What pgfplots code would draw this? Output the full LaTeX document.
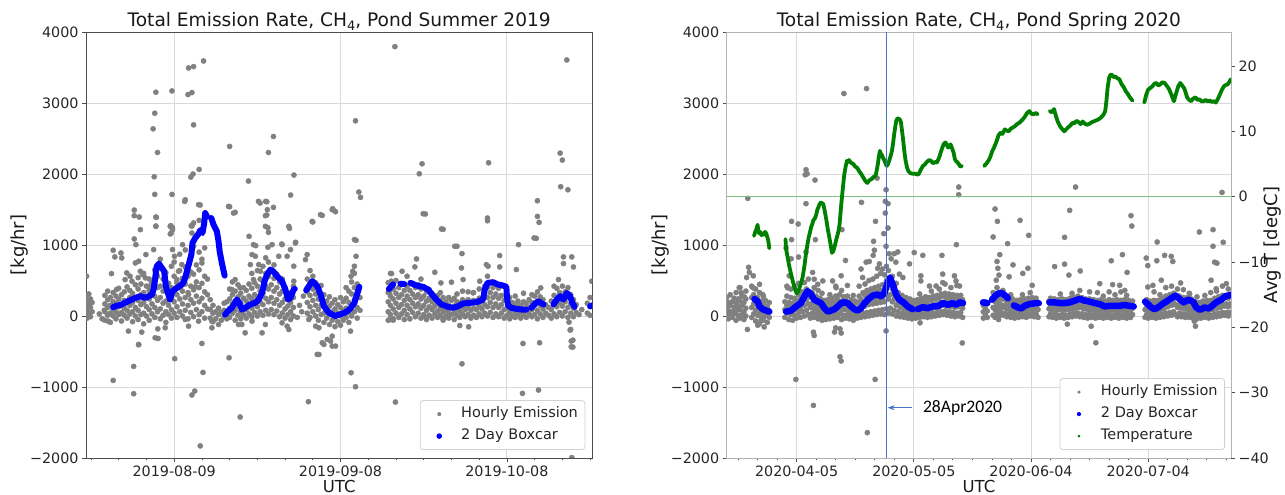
\documentclass[border=0pt]{standalone}
\usepackage{fontspec}
\setmainfont{DejaVu Sans}
\newfontfamily\carlito{Carlito}
\usepackage{pgfplots}
\pgfplotsset{compat=1.18}
\usetikzlibrary{arrows.meta}
\definecolor{mgray}{HTML}{808080}
\definecolor{mblue}{HTML}{0000FF}
\definecolor{mgreen}{HTML}{008000}
\definecolor{vline}{HTML}{4472C4}
\definecolor{zline}{HTML}{80C080}
\definecolor{gridc}{HTML}{D9D9D9}
\pgfplotsset{
  mybase/.style={
    scale only axis, height=426pt, anchor=south west,
    clip marker paths=true,
    tick align=outside, major tick length=4pt, minor tick length=2.5pt,
    tick pos=left,
    ymin=-2000, ymax=4000,
    ytick={-2000,-1000,0,1000,2000,3000,4000},
    yticklabels={−2000,−1000,0,1000,2000,3000,4000},
    grid=major,
    major grid style={draw=gridc, line width=0.9pt},
    tick label style={font=\fontsize{14.3}{16}\selectfont, text=black!85},
    tick style={draw=black!70, line width=0.8pt},
    legend cell align=left,
  },
  mylegend/.style={
    legend style={
      at={(1,0)}, anchor=south east,
      draw=black!18, line width=0.8pt, rounded corners=3pt, fill=white,
      font=\fontsize{14.5}{17}\selectfont, text=black!85,
      inner xsep=4pt, inner ysep=3pt, row sep=1pt,
      nodes={inner sep=3pt, text height=11pt, text depth=4pt},
    },
  },
  legdot/.style 2 args={legend image code/.code={\path[draw=none] (0pt,0pt) -- (34pt,0pt); \path[draw=none, fill=#1] (15pt,0pt) circle (#2);}},
}
\begin{document}
\begin{tikzpicture}
\useasboundingbox (0pt,0pt) rectangle (1285pt,495pt);
% ---------------- LEFT PANEL ----------------
\begin{axis}[mybase, mylegend, at={(86pt,37pt)}, width=506.3pt,
  xmin=-15.9, xmax=75.4,
  xtick={0,30,60}, xticklabels={2019-08-09,2019-09-08,2019-10-08},
  minor xtick={-15,-10,-5,5,10,15,20,25,35,40,45,50,55,65,70,75},
  axis line style={draw=black!70, line width=0.9pt},
  legend style={xshift=-7pt, yshift=8pt},
]
\addplot[only marks, mark=*, mark size=2.6pt, mgray, mark options={draw=mgray, fill=mgray}, legdot={mgray}{2pt}] coordinates {
(-15.9,20)(-15.9,150)(-15.9,280)(-15.7,-30)(-15.7,90)(-15.7,210)(-15.4,40)(-15.4,170)(-15.4,310)(-15.1,-10)(-15.1,120)(-15.1,240)(-14.8,60)(-14.8,190)(-15.8,560)
(-13.5,30)(-13.0,-40)(-12.6,80)
(-12.5,-60)(-12.5,60)(-12.5,170)(-12.5,290)(-12,10)(-12,120)(-12,230)(-12,350)(-11.5,-90)(-11.5,40)(-11.5,150)(-11.5,260)(-11,0)(-11,90)(-11,200)(-11,330)
(-10.5,-40)(-10.5,60)(-10.5,180)(-10.5,280)(-10,20)(-10,130)(-10,240)(-10,390)(-9.5,-70)(-9.5,50)(-9.5,160)(-9.5,300)(-9,10)(-9,110)(-9,220)(-9,340)
(-8.5,-30)(-8.5,80)(-8.5,200)(-8.5,410)(-8,30)(-8,150)(-8,260)(-8,360)(-7.5,-80)(-7.5,60)(-7.5,190)(-7.5,320)(-7,0)(-7,120)(-7,250)(-7,440)
(-6.5,-50)(-6.5,80)(-6.5,220)(-6.5,380)(-6.5,540)(-6,20)(-6,160)(-6,300)(-6,450)(-5.5,-110)(-5.5,40)(-5.5,190)(-5.5,330)(-5.5,600)(-5,0)(-5,130)(-5,270)(-5,420)
(-4.5,-60)(-4.5,90)(-4.5,240)(-4.5,360)(-4.5,520)(-4,30)(-4,170)(-4,310)(-4,470)(-3.5,-20)(-3.5,120)(-3.5,280)(-3.5,450)(-3.5,650)(-3,60)(-3,220)(-3,400)(-3,560)
(-2.5,-40)(-2.5,100)(-2.5,260)(-2.5,420)(-2.5,800)(-2,10)(-2,180)(-2,350)(-2,520)(-1.5,-90)(-1.5,60)(-1.5,210)(-1.5,380)(-1.5,610)(-1,20)(-1,150)(-1,300)(-1,460)
(-0.5,-30)(-0.5,90)(-0.5,250)(-0.5,400)(-0.5,700)
(0,40)(0,200)(0,380)(0,560)(0,760)(0.5,-20)(0.5,130)(0.5,300)(0.5,470)(1,60)(1,240)(1,420)(1,640)(1,870)(1.5,0)(1.5,170)(1.5,350)(1.5,530)
(2,80)(2,260)(2,450)(2,690)(2,930)(2.5,-40)(2.5,150)(2.5,330)(2.5,560)(3,50)(3,230)(3,420)(3,620)(3,850)(3.5,-10)(3.5,180)(3.5,370)(3.5,590)(3.5,980)
(4,90)(4,280)(4,480)(4,720)(4.5,20)(4.5,200)(4.5,400)(4.5,650)(4.5,900)(5,60)(5,250)(5,460)(5,800)(5.5,-30)(5.5,150)(5.5,340)(5.5,560)(5.5,960)
(6,100)(6,300)(6,520)(6.5,-30)(6.5,90)(6.5,230)(7,-80)(7,40)(7,150)(7.5,-40)(7.5,60)(8,-120)(8,20)(8,110)(8.5,-60)(8.5,50)(9,-10)(9,80)(9,180)(9.5,-40)(9.5,60)(9.5,200)
(10,-20)(10,110)(10,240)(10,380)(10.5,40)(10.5,170)(10.5,300)(10.5,480)(11,-60)(11,80)(11,210)(11,350)(11.5,10)(11.5,140)(11.5,270)(11.5,440)
(12,-40)(12,60)(12,180)(12,320)(12.5,20)(12.5,120)(12.5,250)(12.5,400)(13,-30)(13,90)(13,210)(13,360)(13.5,30)(13.5,150)(13.5,280)(13.5,450)
(14,-10)(14,110)(14,240)(14,390)(14,600)(14.5,50)(14.5,170)(14.5,300)(14.5,470)(15,0)(15,130)(15,270)(15,420)(15,640)(15.5,60)(15.5,200)(15.5,350)(15.5,520)
(16,10)(16,160)(16,320)(16,490)(16,700)(16.5,80)(16.5,250)(16.5,420)(16.5,600)(16.5,820)(17,30)(17,200)(17,380)(17,560)(17,760)(17.5,90)(17.5,260)(17.5,440)(17.5,640)
(18,20)(18,180)(18,350)(18,530)(18,720)(18.5,70)(18.5,230)(18.5,400)(18.5,590)(19,-10)(19,150)(19,310)(19,480)(19.5,40)(19.5,190)(19.5,350)(19.5,520)
(20,-30)(20,100)(20,240)(20,400)(20.5,20)(20.5,140)(20.5,280)(21,-50)(21,60)(21,190)(21,330)(21.5,0)(21.5,120)(21.5,260)(21.5,420)
(22.2,-20)(22.6,150)(23,60)(23.3,280)
(24,40)(24,190)(24,340)(24,520)(24.5,-20)(24.5,130)(24.5,290)(24.5,460)(24.5,640)(25,60)(25,220)(25,380)(25,560)(25.5,0)(25.5,150)(25.5,310)(25.5,470)
(26,-60)(26,90)(26,240)(26,390)(26.5,20)(26.5,150)(26.5,280)(26.5,430)(27,-90)(27,40)(27,170)(27,300)(27.5,-30)(27.5,80)(27.5,210)
(28,-120)(28,20)(28,140)(28,270)(28.5,-60)(28.5,60)(28.5,180)(29,-150)(29,-20)(29,100)(29,230)(29.5,-80)(29.5,40)(29.5,160)
(30,-130)(30,0)(30,120)(30,260)(30.5,-60)(30.5,70)(30.5,200)(31,-20)(31,110)(31,250)(31,400)(31.5,-90)(31.5,50)(31.5,190)(31.5,350)
(32,0)(32,150)(32,310)(32,480)(32.5,60)(32.5,230)(32.5,400)(32.5,600)(33,-30)(33,120)(33,300)(33,450)(33.5,80)(33.5,260)
(38.6,-60)(38.6,60)(38.6,200)(38.6,330)(38.6,470)(39,20)(39,150)(39,280)(39,420)(39,600)(39.5,-40)(39.5,100)(39.5,240)(39.5,380)
(40,40)(40,180)(40,320)(40,500)(40.5,-20)(40.5,120)(40.5,260)(40.5,400)(41,30)(41,160)(41,300)(41.5,-50)(41.5,80)(41.5,220)(41.5,360)
(42,20)(42,150)(42,280)(42,420)(42,560)(42.5,-40)(42.5,100)(42.5,230)(42.5,360)(43,50)(43,180)(43,310)(43,460)(43.5,-10)(43.5,130)(43.5,260)(43.5,400)
(44,40)(44,170)(44,300)(44,440)(44.5,-30)(44.5,110)(44.5,240)(44.5,380)(44.5,520)(45,20)(45,150)(45,280)(45,410)(45.5,-50)(45.5,80)(45.5,210)(45.5,340)
(46,10)(46,130)(46,250)(46,370)(46.5,-30)(46.5,90)(46.5,200)(46.5,320)(47,30)(47,140)(47,250)(47.5,-20)(47.5,70)(47.5,180)(47.5,290)
(48,10)(48,110)(48,210)(48,330)(48.5,-40)(48.5,60)(48.5,160)(48.5,260)(49,0)(49,100)(49,200)(49.5,-30)(49.5,50)(49.5,150)(49.5,260)
(50,20)(50,120)(50,220)(50.5,-50)(50.5,40)(50.5,140)(50.5,250)(51,10)(51,100)(51,200)(51,310)(51.5,-20)(51.5,70)(51.5,180)
(52,30)(52,130)(52,230)(52,350)(52.5,-10)(52.5,90)(52.5,200)(53,20)(53,120)(53,230)(53,340)(53.5,-30)(53.5,80)(53.5,190)
(54,10)(54,110)(54,220)(54,330)(54.5,-20)(54.5,90)(54.5,200)(55,30)(55,140)(55,250)(55,380)(55.5,-10)(55.5,100)(55.5,210)
(56,40)(56,160)(56,290)(56,420)(56.5,0)(56.5,130)(56.5,260)(56.5,400)(56.5,560)(57,50)(57,190)(57,330)(57,470)(57.5,-20)(57.5,120)(57.5,260)(57.5,400)
(58,30)(58,170)(58,310)(58,460)(58.5,-10)(58.5,120)(58.5,250)(58.5,390)(59,40)(59,160)(59,290)(59,430)(59.5,-30)(59.5,90)(59.5,220)
(60,10)(60,110)(60,220)(60.5,-40)(60.5,50)(60.5,150)(60.5,260)(61,0)(61,90)(61,190)(61.5,-20)(61.5,60)(61.5,160)(61.5,280)
(62,20)(62,110)(62,210)(62.5,-30)(62.5,50)(62.5,150)(63,10)(63,100)(63,200)(63,320)(63.5,-20)(63.5,70)(63.5,170)
(64,30)(64,120)(64,230)(64.5,-10)(64.5,90)(64.5,190)(64.5,300)(65,20)(65,150)(65,280)(65.5,-40)(65.5,80)(65.5,210)(65.5,340)
(66,30)(66,150)(66,270)(66.5,-20)(66.5,100)(66.5,230)(67,40)(67,160)(67.5,10)(67.5,120)
(68,-30)(68,90)(68,210)(68.5,30)(68.5,160)(68.5,290)(68.5,420)(69,-10)(69,130)(69,260)(69,390)(69.5,50)(69.5,190)(69.5,330)
(70,0)(70,140)(70,280)(70,420)(70.5,60)(70.5,200)(70.5,340)(71,-20)(71,120)(71,260)(71,400)(71.5,40)(71.5,170)(71.5,300)
(72,-10)(72,110)(72,230)(72.5,50)(72.5,160)(73,20)(73.5,90)(74.5,40)(74.5,180)(75,10)(75,130)(75,260)(75.5,-20)(75.5,90)(75.5,220)
(-16.1,1155)(-3.8,2636)(-3.5,2856)(-3.3,3152)(-3.0,2303)(-3.6,1961)(-3.5,1713)(-3.2,1389)(-3.3,1267)
(-7.2,1492)(-7.2,1413)(-6.3,1394)(-6.1,1216)(-7.2,1085)(-6.9,1005)
(-0.4,3170)(-0.4,1713)(-0.6,1272)(-0.3,1244)(-0.7,1155)
(1.9,1614)(2.6,3494)(3.5,3513)(5.3,3592)(2.5,3119)(3.2,3147)(3.5,2692)(4.5,2064)(3.4,1999)(3.0,1956)(4.7,1563)(3.2,1267)(4.5,1347)(3.2,1169)
(10.0,2388)(10.0,1539)(11.0,1460)(13.4,1900)(13.5,1122)(14.7,991)(15.5,1591)(16.7,1610)(16.7,1422)(16.9,1244)(17.0,1178)(17.0,2303)(17.9,2528)(17.9,1530)(16.9,968)(19.4,1014)(20.8,1235)(21.0,1703)(21.6,1985)(21.9,1038)
(25.0,1324)(26.7,1417)(28.6,1511)(29.1,1469)(32.7,2749)(32.8,1066)(33.3,1746)(33.6,1671)
(39.8,3794)(44.2,2003)(44.7,2144)(45.3,1436)(48.5,1221)(51.0,982)(56.7,2158)(56.5,1380)(56.5,1342)(62.1,1005)(65.3,1094)(65.5,1624)(65.5,1403)(65.8,1319)(69.6,2294)(70.0,2196)(70.8,3606)(69.7,1821)(71.0,1778)
(-11.0,-907)(-7.3,-1095)(-7.3,-710)(-6.4,-405)(-2.9,-316)(0.1,-602)(3.2,-1113)(3.7,-1057)(4.7,-1830)(5.2,-795)(9.9,-588)(11.9,-1423)(26.1,-542)(27.0,-401)(28.2,-354)(29.1,-424)(24.2,-1207)(31.9,-799)(32.7,-996)(39.9,-1212)(51.9,-673)(62.9,-387)(65.9,-377)(62.8,-1090)(65.7,-1043)(71.9,-340)(71.9,-438)(71.5,-190)(71.7,-1994)
(-11.0,926)(-9.6,888)(-10.7,832)(-9.45,818)(-5.1,865)(-3.7,935)(-7.0,747)(-6.4,771)(-11.3,597)(-8.55,607)(-7.95,560)(-7.6,490)(-8.85,513)(-10.4,373)(-6.1,630)(-5.7,583)(-5.2,537)(-4.6,419)
(-11.9,-73)(-8.25,-213)(-5.84,-227)(-6.4,-401)(-3.43,-307)(-2.95,-181)(-1.62,-166)(-0.3,1216)(-0.72,1263)(-0.54,1169)(-3.3,1394)(-3.3,1263)(-0.3,935)(0.06,841)(1.51,1005)(2.0,1638)(3.08,1272)(3.5,1310)(4.4,1568)(1.39,724)(0.79,630)(0.49,513)(1.09,396)(1.69,457)(2.6,302)(3.8,410)(5.0,747)(5.0,-387)(2.6,-143)(2.0,-49)(4.4,-73)(6.8,-166)(6.8,-73)
(9.8,1544)(10.7,1450)(14.3,1005)(15.2,1615)(16.5,1615)(16.8,1497)(16.45,1413)(16.45,1263)(17.65,1005)(18.86,841)(19.46,1005)(20.67,1263)(20.97,935)(20.37,841)(21.87,1029)(21.57,701)(21.57,490)(14.04,865)(14.64,841)(13.74,724)(15.25,724)(15.55,630)(11.0,513)(10.4,373)(11.9,396)(14.3,513)
(11.6,-120)(12.2,-120)(12.8,-237)(15.85,-237)(16.45,-120)(14.04,-73)(19.46,-96)(20.37,-143)(20.67,-190)(23.68,794)(23.98,865)(24.88,1333)(26.39,1427)(28.5,1497)(24.28,-49)(26.1,-166)(25.5,-143)(26.7,-377)(27.6,-330)(28.5,-284)(28.5,-424)(25.8,-541)
(32.5,1076)(32.8,841)(32.5,701)(32.2,630)(31.9,560)(31.8,-213)(44.9,1441)(48.2,1226)(50.6,982)(51.9,879)(51.8,677)(43.7,804)(43.4,691)(39.2,597)(41.1,630)(47.0,616)(48.1,466)(50.0,476)(52.1,513)(51.5,-134)(53.1,-152)(48.5,-59)
(56.3,724)(56.6,701)(58.7,691)(58.7,851)(61.7,654)(64.9,1099)(66.1,396)(70.2,832)(71.7,832)(70.2,738)(72.0,691)(69.3,513)(71.2,-87)(71.4,-199)(71.6,-354)(71.6,-434)(75.3,490)(55.1,490)(53.9,326)(39.5,-59)(38.9,-49)(45.2,-12)(38.85,326)(39.15,490)
};
\addlegendentry{Hourly Emission}
\addplot[mblue, line width=6pt, line cap=round, line join=round, unbounded coords=jump, legdot={mblue}{2.8pt}] coordinates {
(-11.0,125)(-10.5,140)(-9.5,162)(-8.3,208)(-7.0,255)(-6.1,279)(-5.2,255)(-4.6,279)(-4.0,302)(-3.7,380)(-3.45,513)(-3.15,700)(-2.75,738)(-2.25,680)(-1.8,630)(-1.5,420)(-1.15,326)(-0.75,232)(-0.3,349)(0.5,396)(1.4,443)(1.9,513)(2.3,630)(2.7,747)(3.1,865)(3.3,1029)(3.8,1099)(4.3,1146)(4.7,1207)(5.1,1169)(5.4,1300)(5.6,1450)(5.9,1404)(6.3,nan)
(6.7,1380)(7.1,1286)(7.7,1193)(8.0,1052)(8.2,912)(8.6,747)(9.1,569)(9.15,nan)
(9.2,21)(9.7,68)(10.4,115)(11.3,232)(11.75,185)(12.2,91)(12.8,115)(13.7,162)(14.6,185)(15.25,232)(15.85,326)(16.3,490)(16.75,583)(17.35,654)(17.85,630)(18.55,560)(19.45,490)(20.05,373)(20.55,232)(20.95,255)(21.55,373)(21.75,382)(22.5,nan)
(23.8,363)(24.9,490)(25.8,419)(26.4,302)(27.0,138)(27.9,44)(29.0,0)(30.7,44)(31.6,91)(32.5,185)(33.4,410)(35,nan)
(38.7,380)(39.5,445)(40.1,nan)(40.8,455)(41.5,450)(42,nan)
(42.6,466)(43.7,429)(44.9,410)(45.8,373)(46.5,302)(47.3,232)(48.2,162)(49.4,129)(50.3,115)(51.2,138)(52.1,176)(53.3,185)(54.5,194)(55.7,232)(56.0,373)(56.5,466)(57.5,476)(58.4,443)(59.3,429)(59.9,410)(60.0,280)(60.2,148)(60.8,115)(61.7,101)(62.7,91)(63.5,91)(64,nan)
(64.4,115)(65.1,176)(65.7,208)(66.6,162)(67.5,nan)
(68.4,162)(69.0,232)(69.6,279)(70.2,232)(70.8,326)(71.4,279)(71.8,185)(72.2,129)(73,nan)
(75.0,138)(75.9,162)
};
\addlegendentry{2 Day Boxcar}
\end{axis}
% ---------------- RIGHT PANEL ----------------
\begin{axis}[mybase, at={(726.7pt,37pt)}, width=504.3pt,
  xmin=-17.9, xmax=111.2,
  xtick={0,30,60,90}, xticklabels={2020-04-05,2020-05-05,2020-06-04,2020-07-04},
  minor xtick={-15,-10,-5,5,10,15,20,25,35,40,45,50,55,65,70,75,80,85,95,100,105,110},
  axis line style={draw=black!30, line width=0.9pt},
]
\addplot[only marks, mark=*, mark size=2.6pt, mgray, mark options={draw=mgray, fill=mgray}] coordinates {
(-17.9,20)(-17.9,140)(-17.9,260)(-17.5,-40)(-17.5,80)(-17.5,190)(-17,30)(-17,150)(-17,300)(-16.5,-20)(-16.5,60)(-16.5,200)(-16,40)(-16,120)(-16,250)
(-15.5,-60)(-15.5,70)(-15.5,180)(-15.5,330)(-15,10)(-15,130)(-15,240)(-14.5,-30)(-14.5,90)(-14.5,210)(-14.5,400)(-14,20)(-14,150)(-14,280)(-13.5,-50)(-13.5,60)(-13.5,190)(-13,0)(-13,110)(-13,240)(-13,350)
(-11.5,-20)(-11.5,120)(-11.5,260)(-11.5,420)(-11,30)(-11,170)(-11,300)(-10.5,-70)(-10.5,80)(-10.5,220)(-10.5,380)(-10,10)(-10,140)(-10,260)(-9.5,-110)(-9.5,40)(-9.5,170)(-9.5,330)
(-9,-20)(-9,90)(-9,210)(-8.5,-60)(-8.5,50)(-8.5,160)(-8.5,280)(-8,0)(-8,100)(-8,220)(-7.5,-90)(-7.5,30)(-7.5,140)(-7,-20)(-7,70)(-7,190)
(-3,-20)(-3,90)(-3,200)(-2.5,40)(-2.5,150)(-2.5,280)(-2.5,420)(-2,-50)(-2,70)(-2,190)(-1.5,20)(-1.5,140)(-1.5,260)(-1.5,380)(-1,-60)(-1,60)(-1,180)(-0.5,10)(-0.5,130)(-0.5,250)(-0.5,420)
(0,-30)(0,90)(0,220)(0.5,40)(0.5,170)(0.5,300)(0.5,460)(1,-20)(1,110)(1,240)(1.5,60)(1.5,200)(1.5,340)(2,0)(2,150)(2,290)(2,470)(2.5,80)(2.5,230)(2.5,380)
(3,20)(3,170)(3,320)(3,520)(3.5,-30)(3.5,120)(3.5,270)(4,40)(4,180)(4,330)(4.5,-20)(4.5,100)(4.5,240)(4.5,400)(5,30)(5,150)(5,280)(5.5,-40)(5.5,80)(5.5,210)(5.5,360)
(6,10)(6,130)(6,250)(6.5,-60)(6.5,60)(6.5,180)(6.5,320)(7,0)(7,100)(7,220)(7.5,-50)(7.5,50)(7.5,160)(8,10)(8,110)(8,230)(8.5,-40)(8.5,60)(8.5,180)(8.5,300)
(9,20)(9,130)(9,250)(9.5,-30)(9.5,80)(9.5,200)(10,40)(10,160)(10,280)(10,420)(10.5,-20)(10.5,100)(10.5,230)(11,30)(11,170)(11,300)(11.5,-50)(11.5,80)(11.5,210)(11.5,360)
(12,10)(12,140)(12,270)(12.5,-30)(12.5,90)(12.5,220)(13,20)(13,150)(13,280)(13,430)(13.5,-40)(13.5,70)(13.5,190)(14,10)(14,110)(14,230)(14.5,-60)(14.5,50)(14.5,160)(14.5,290)
(15,0)(15,100)(15,210)(15.5,-30)(15.5,70)(15.5,190)(16,30)(16,150)(16,280)(16,420)(16.5,-20)(16.5,100)(16.5,230)(17,40)(17,190)(17,330)(17.5,-10)(17.5,140)(17.5,290)(17.5,450)
(18,50)(18,210)(18,360)(18.5,0)(18.5,160)(18.5,310)(18.5,500)(19,60)(19,220)(19,380)(19.5,10)(19.5,170)(19.5,330)(19.5,520)(20,70)(20,240)(20,400)(20.5,20)(20.5,180)(20.5,350)(20.5,560)
(21,80)(21,250)(21,420)(21.5,30)(21.5,190)(21.5,360)(21.5,600)(22,90)(22,260)(22,440)(22.5,20)(22.5,200)(22.5,380)(22.5,580)(23,100)(23,300)(23,500)(23,700)(23.5,40)(23.5,240)(23.5,440)(23.5,640)
(24,110)(24,300)(24,480)(24.5,30)(24.5,200)(24.5,380)(24.5,560)(25,80)(25,240)(25,400)(25.5,0)(25.5,150)(25.5,300)(25.5,460)(26,60)(26,190)(26,330)(26.5,-10)(26.5,120)(26.5,260)
(27,40)(27,160)(27,290)(27.5,-20)(27.5,100)(27.5,230)(28,30)(28,140)(28,260)(28.5,-30)(28.5,80)(28.5,190)(29,20)(29,120)(29,240)(29.5,-40)(29.5,60)(29.5,170)
(30,10)(30,110)(30,220)(30.5,-30)(30.5,70)(30.5,180)(31,20)(31,120)(31,230)(31.5,-20)(31.5,80)(31.5,190)(31.5,310)(32,30)(32,140)(32,250)(32.5,-10)(32.5,100)(32.5,210)
(33,40)(33,150)(33,270)(33.5,-20)(33.5,90)(33.5,200)(34,30)(34,140)(34,260)(34.5,-10)(34.5,100)(34.5,220)(34.5,350)(35,40)(35,160)(35,280)(35.5,0)(35.5,120)(35.5,240)
(36,50)(36,170)(36,290)(36.5,10)(36.5,130)(36.5,250)(36.5,380)(37,60)(37,190)(37,310)(37.5,20)(37.5,150)(37.5,280)(38,70)(38,200)(38,320)(38,450)(38.5,10)(38.5,140)(38.5,260)
(39,60)(39,190)(39,310)(39.5,0)(39.5,130)(39.5,260)(39.5,400)(40,50)(40,180)(40,300)(40.5,-10)(40.5,120)(40.5,250)(41,40)(41,170)(41,290)(41,430)(41.5,0)(41.5,130)(41.5,250)
(42,50)(42,170)(42,290)(42.5,-20)(42.5,110)(42.5,230)
(47.8,-30)(47.8,60)(47.8,150)(48.3,20)(48.3,110)(48.3,200)(48.8,-20)(48.8,70)
(50.3,10)(50.3,120)(50.3,230)(50.3,330)(50.8,-20)(50.8,90)(50.8,200)(50.8,310)(51.3,40)(51.3,150)(51.3,260)(51.3,400)(51.8,0)(51.8,110)(51.8,220)(51.8,330)
(52.3,50)(52.3,160)(52.3,280)(52.8,10)(52.8,120)(52.8,240)(52.8,360)(53.3,40)(53.3,150)(53.3,260)(53.8,-10)(53.8,100)(53.8,210)(54.3,30)(54.3,140)(54.3,250)
(54.8,-20)(54.8,80)(54.8,190)(54.8,300)(55.3,20)(55.3,130)(55.3,240)(55.8,-30)(55.8,70)(55.8,180)(56.3,10)(56.3,110)(56.3,220)(56.8,-20)(56.8,80)(56.8,180)
(57.3,30)(57.3,120)(57.3,230)(57.8,-10)(57.8,90)(57.8,200)(57.8,300)(58.3,20)(58.3,130)(58.3,240)(58.8,-20)(58.8,80)(58.8,190)(59.3,30)(59.3,140)(59.3,250)
(59.8,0)(59.8,100)(59.8,210)(59.8,330)(60.3,40)(60.3,150)(60.3,260)(60.8,-10)(60.8,100)(60.8,210)(61.3,30)(61.3,140)(61.3,250)(61.8,-20)(61.8,90)(61.8,190)
(64.6,-10)(64.6,100)(64.6,210)(65,30)(65,140)(65,250)(65.5,-20)(65.5,90)(65.5,200)(66,20)(66,130)(66,240)(66.5,-30)(66.5,80)(66.5,190)(67,10)(67,120)(67,230)
(67.5,-20)(67.5,90)(67.5,200)(67.5,310)(68,20)(68,130)(68,240)(68.5,-30)(68.5,80)(68.5,190)(69,10)(69,120)(69,230)(69.5,-20)(69.5,90)(69.5,200)
(70,30)(70,140)(70,250)(70.5,-10)(70.5,100)(70.5,210)(70.5,320)(71,40)(71,150)(71,260)(71.5,0)(71.5,110)(71.5,220)(72,40)(72,160)(72,280)(72.5,-10)(72.5,120)(72.5,240)(72.5,360)
(73,30)(73,150)(73,260)(73.5,-20)(73.5,100)(73.5,210)(74,20)(74,130)(74,240)(74.5,-30)(74.5,90)(74.5,200)(75,20)(75,130)(75,240)(75,340)(75.5,-20)(75.5,80)(75.5,190)
(76,10)(76,120)(76,230)(76.5,-30)(76.5,70)(76.5,180)(77,10)(77,110)(77,220)(77,330)(77.5,-20)(77.5,80)(77.5,190)(78,20)(78,120)(78,230)(78.5,-30)(78.5,60)(78.5,170)(78.5,280)
(79,10)(79,100)(79,210)(79.5,-20)(79.5,70)(79.5,180)(80,20)(80,120)(80,230)(80,340)(80.5,-30)(80.5,80)(80.5,190)(81,10)(81,110)(81,220)(81.5,-20)(81.5,80)(81.5,190)(81.5,300)
(82,20)(82,120)(82,230)(82.5,-30)(82.5,70)(82.5,180)(83,10)(83,110)(83,220)(83,340)(83.5,-20)(83.5,80)(83.5,190)(84,20)(84,120)(84,230)(84.5,-30)(84.5,70)(84.5,180)(84.5,290)
(85,10)(85,110)(85,220)(85.5,-20)(85.5,80)(85.5,190)(86,20)(86,110)(86,210)
(89.2,-20)(89.2,90)(89.2,200)(89.6,20)(89.6,120)(89.6,230)(90,-30)(90,60)(90,170)(90.5,10)(90.5,100)(90.5,210)(91,-20)(91,70)(91,180)(91.5,20)(91.5,110)(91.5,220)(91.5,340)
(92,-30)(92,60)(92,170)(92.5,10)(92.5,110)(92.5,220)(93,-20)(93,80)(93,190)(93,300)(93.5,30)(93.5,140)(93.5,250)(94,-10)(94,100)(94,220)(94.5,40)(94.5,160)(94.5,280)(94.5,400)
(95,0)(95,130)(95,250)(95.5,50)(95.5,180)(95.5,300)(96,10)(96,150)(96,280)(96,420)(96.5,60)(96.5,190)(96.5,320)(97,20)(97,160)(97,290)(97.5,-10)(97.5,120)(97.5,250)(97.5,380)
(98,40)(98,160)(98,280)(98.5,-10)(98.5,110)(98.5,230)(99,30)(99,140)(99,260)(99,370)(99.5,-20)(99.5,100)(99.5,210)(100,30)(100,140)(100,260)(100.5,-20)(100.5,90)(100.5,200)(100.5,320)
(101,20)(101,130)(101,240)(101.5,-30)(101.5,80)(101.5,190)(102,10)(102,100)(102,200)(102.5,-40)(102.5,50)(102.5,160)(102.5,270)(103,0)(103,90)(103,190)(103.5,-30)(103.5,60)(103.5,170)
(104,10)(104,100)(104,210)(104.5,-20)(104.5,70)(104.5,180)(104.5,290)(105,20)(105,110)(105,220)(105.5,-30)(105.5,70)(105.5,180)(106,10)(106,110)(106,220)(106,330)(106.5,-20)(106.5,90)(106.5,200)
(107,30)(107,140)(107,250)(107.5,-10)(107.5,110)(107.5,230)(107.5,350)(108,40)(108,150)(108,270)(108.5,0)(108.5,120)(108.5,240)(109,50)(109,170)(109,290)(109,420)(109.5,10)(109.5,140)(109.5,260)
(110,50)(110,170)(110,290)(110.5,0)(110.5,130)(110.5,250)(110.5,380)(111,50)(111,170)(111,290)
(-12.5,1657)(12.1,3133)(17.9,3203)(2.4,2060)(2.7,2003)(2.2,1989)(4.7,1914)(2.4,1582)(-1.3,1333)(0.4,1296)(-1.3,1075)(4.8,1075)(-2.7,958)(16.6,1600)(20.6,1942)(22.9,1778)(22.7,1614)(23.4,1582)(22.7,1450)(20.2,1333)(23.4,1239)(22.3,1160)(19.7,1052)(22.9,982)(11.6,1216)
(41.5,1816)(41.5,1708)(40.9,1005)(50.8,1507)(51.4,1333)(50.3,1113)(54.0,1019)(57.2,1347)(59.4,1136)(71.4,1816)(69.9,1488)(68.6,1108)(85.6,1413)(85.8,1267)(92.3,1042)(103.1,1183)(106.6,1216)(106.6,982)(109.2,1038)(108.9,1741)
(-12.6,-190)(-0.2,-893)(4.3,-228)(4.3,-1259)(11.1,-574)(10.0,-167)(11.1,-181)(18.1,-1643)(20.1,-893)(22.9,-210)(31.6,-96)(42.4,-380)(51.7,-50)(69.3,-115)(76.6,-377)(101.8,-73)
(-12.3,686)(-12.1,614)(-12.8,542)(-14.7,398)(-14.2,326)(-13.4,269)(-11.2,398)(-11.1,566)(-9.5,446)(-8.7,302)(-9.1,-58)(-9.96,-130)(-8.3,-154)
(0.5,830)(2.4,902)(-1.4,806)(-1.9,566)(-2.3,398)(4.1,614)(4.5,518)(5.4,446)(6.7,494)(9.2,494)(11.4,566)(12.5,782)(10.1,398)(4.5,-274)(9.7,-226)(11.4,-240)(11.4,-634)
(16.5,662)(16.9,542)(17.8,758)(18.6,768)(19.9,926)(19.6,854)(20.75,672)(21.2,734)(22.0,662)(23.7,878)(24.2,806)(25.0,878)(25.4,758)(25.9,902)(26.3,590)(27.2,542)(28.9,734)(30.1,893)(32.3,854)(31.8,566)(31.8,494)(34.0,422)(35.7,422)(37.2,854)(37.4,590)(37.4,470)(40.4,566)(40.8,494)(41.7,422)
(52.0,864)(51.3,768)(51.5,672)(51.8,576)(51.1,504)(54.4,552)(55.4,720)(57.9,600)(59.2,672)(60.3,432)(66.05,696)(68.6,730)(69.7,576)(72.6,634)(75.4,-144)(77.6,456)(80.55,778)(83.4,864)(84.6,614)
(89.5,816)(89.9,710)(92.2,778)(94.2,854)(95.9,840)(96.3,768)(93.35,504)(91.2,432)(89.9,408)(98.3,466)(100.6,312)(102.1,-144)(107.0,758)(107.6,744)(106.1,504)(110.0,456)(107.4,384)(80.9,442)(82.7,432)(84.0,360)
};
\addplot[mblue, line width=6.5pt, line cap=round, line join=round, unbounded coords=jump] coordinates {
(-10.8,240)(-10.0,206)(-9.5,134)(-8.7,96)(-7.8,77)(-7.0,62)(-5,nan)
(-2.7,62)(-1.4,77)(-0.15,134)(1.1,182)(2.0,278)(2.8,350)(3.7,302)(4.5,230)(5.4,206)(6.25,182)(7.1,110)(7.95,62)(8.8,77)(9.7,96)(10.5,134)(11.4,182)(12.2,192)(13.1,182)(13.9,134)(14.8,96)(15.6,77)(16.5,110)(17.3,173)(18.2,230)(19.5,288)(20.75,302)(21.6,278)(22.5,326)(23.3,470)(23.9,542)(24.6,446)(25.45,302)(26.3,230)(27.6,182)(28.4,134)(29.7,96)(30.3,nan)
(31.0,96)(32.3,125)(33.55,110)(34.8,134)(36.1,134)(37.4,182)(38.7,158)(39.9,182)(40.8,158)(41.7,192)(42.6,182)(45,nan)
(47.7,192)(48.8,180)(49.4,nan)
(50.0,230)(50.8,280)(51.5,312)(52.4,326)(53.2,298)(54.1,250)(54.8,nan)
(55.6,150)(56.7,120)(57.5,106)(58.4,144)(59.6,168)(61.4,182)(62.0,180)(63,nan)
(64.7,192)(66.0,192)(67.3,182)(68.6,182)(69.9,192)(71.2,216)(72.45,240)(73.7,216)(75.0,202)(76.3,182)(77.6,168)(78.85,134)(80.1,144)(81.4,144)(82.7,144)(84.0,154)(85.2,144)(86.3,134)(87,nan)
(89.2,202)(89.9,168)(90.8,120)(91.6,96)(92.5,120)(93.6,168)(94.6,202)(95.9,250)(97.0,288)(98.0,240)(99.1,192)(100.2,230)(101.5,202)(102.3,120)(103.3,86)(104.4,120)(105.55,106)(106.6,154)(107.4,192)(108.7,230)(109.8,278)(111.2,298)
};
\end{axis}
\begin{axis}[scale only axis, anchor=south west, at={(726.7pt,37pt)}, width=504.3pt, height=426pt,
  clip marker paths=true,
  xmin=-17.9, xmax=111.2, ymin=-40, ymax=25.2,
  axis x line=none, axis y line*=right,
  ytick={-40,-30,-20,-10,0,10,20}, yticklabels={−40,−30,−20,−10,0,10,20},
  tick align=outside, major tick length=4pt,
  y axis line style={draw=black!30, line width=0.9pt},
  tick label style={font=\fontsize{14.3}{16}\selectfont, text=black!85},
  tick style={draw=black!70, line width=0.8pt},
  legend cell align=left, mylegend,
  legend style={xshift=-6pt, yshift=8pt},
]
\addlegendimage{legdot={mgray}{1.8pt}}
\addlegendentry{Hourly Emission}
\addlegendimage{legdot={mblue}{2.1pt}}
\addlegendentry{2 Day Boxcar}
\addplot[zline, line width=1pt, forget plot] coordinates {(-17.9,0)(111.2,0)};
\addplot[mgreen, line width=3.8pt, line cap=round, line join=round, unbounded coords=jump, legdot={mgreen}{1.5pt}] coordinates {
(-10.9,-6.0)(-10.6,-5.4)(-10.3,-5.0)(-10.0,-4.3)(-9.8,-5.3)(-9.6,-5.6)(-9.3,-5.4)(-9.0,-5.9)(-8.7,-5.7)(-8.4,-5.8)(-8.1,-5.4)(-7.8,-5.6)(-7.5,-6.2)(-7.3,-6.6)(-7.1,-7.4)(-7.0,-7.9)(-5,nan)
(-2.85,-6.5)(-2.7,-8.0)(-2.3,-9.3)(-1.9,-10.6)(-1.45,-11.8)(-1.0,-12.9)(-0.6,-13.8)(-0.3,-14.4)(0,-14.8)(0.35,-14.6)(0.7,-14.0)(1.1,-13.3)(1.55,-12.3)(2.0,-10.6)(2.4,-8.7)(2.8,-7.2)(3.1,-6.2)(3.4,-5.5)(3.7,-4.7)(4.0,-4.2)(4.3,-3.6)(4.7,-3.3)(5.0,-2.8)(5.3,-2.0)(5.6,-1.6)(5.9,-1.1)(6.2,-0.9)(6.5,-1.0)(6.8,-1.1)(7.0,-1.6)(7.2,-2.2)(7.45,-3.0)(7.65,-3.7)(7.9,-4.7)(8.2,-5.7)(8.6,-7.0)(9.05,-8.6)(9.35,-8.4)(9.66,-7.8)(10.1,-6.7)(10.5,-5.8)(10.8,-5.0)(11.0,-4.2)(11.25,-2.4)(11.5,-0.7)(11.85,1.4)(12.2,3.4)(12.55,4.6)(12.9,5.5)(13.15,5.3)(13.4,5.6)(13.9,5.2)(14.5,5.0)(15.0,4.6)(15.5,4.4)(16.0,3.9)(16.6,3.4)(17.1,2.9)(17.6,2.4)(18.1,2.1)(18.6,2.5)(19.2,2.7)(19.7,3.0)(20.2,3.2)(20.5,4.0)(20.8,5.0)(21.05,6.1)(21.3,7.0)(21.55,6.6)(21.8,6.4)(22.15,5.9)(22.5,5.5)(22.8,5.0)(23.1,4.7)(23.4,5.0)(23.7,5.5)(24.1,6.3)(24.4,7.0)(24.7,8.2)(24.96,9.5)(25.25,10.7)(25.5,11.6)(25.85,12.0)(26.2,11.9)(26.45,11.8)(26.7,11.4)(27.0,10.0)(27.3,8.5)(27.6,6.8)(27.9,5.5)(28.25,4.5)(28.6,3.9)(29.1,3.6)(29.7,3.5)(30.4,3.5)(30.8,3.4)(31.2,3.4)(31.7,4.0)(32.3,4.7)(32.8,4.9)(33.3,5.3)(33.9,5.6)(34.4,5.5)(34.9,5.1)(35.4,5.3)(35.9,5.2)(36.5,6.0)(36.9,6.8)(37.3,7.5)(37.7,8.1)(38.1,8.3)(38.45,7.9)(38.8,7.5)(39.1,7.8)(39.4,8.0)(39.8,7.4)(40.2,6.7)(40.45,5.9)(40.7,5.5)(41.1,5.3)(41.5,5.0)(41.9,4.6)(42.3,4.7)(45,nan)
(48.0,4.7)(48.5,5.0)(49.1,5.5)(49.6,6.1)(50.1,7.0)(50.6,7.6)(51.2,8.5)(51.7,9.4)(52.2,9.8)(52.7,9.6)(53.3,10.3)(53.8,10.1)(54.3,10.0)(54.8,10.4)(55.4,10.6)(55.9,10.8)(56.4,11.1)(57.0,11.3)(57.5,11.6)(58.0,11.9)(58.5,12.3)(59.0,12.8)(59.6,13.1)(60.1,12.7)(60.6,12.6)(61.2,12.8)(61.7,12.6)(63,nan)
(64.8,13.1)(65.3,12.9)(65.9,13.4)(66.4,12.3)(66.9,11.4)(67.4,10.8)(67.9,10.4)(68.5,10.0)(69.0,10.3)(69.5,10.6)(70.1,10.9)(70.6,11.3)(71.1,11.2)(71.6,11.6)(72.2,11.4)(72.7,11.1)(73.2,11.5)(73.7,11.2)(74.3,11.0)(74.8,11.1)(75.6,11.4)(76.4,11.6)(77.2,11.8)(77.9,12.1)(78.5,12.5)(79.0,13.1)(79.3,14.6)(79.6,16.6)(80.0,18.2)(80.3,18.6)(80.6,18.7)(81.1,18.3)(81.6,18.4)(82.1,18.1)(82.6,18.0)(83.2,17.2)(83.7,16.8)(84.2,16.2)(84.8,15.7)(85.3,15.2)(85.7,14.9)(86.0,14.7)(87,nan)
(89.0,14.4)(89.5,15.6)(90.0,16.4)(90.5,16.6)(91.1,16.9)(91.6,17.3)(92.1,17.4)(92.6,17.0)(93.1,17.2)(93.6,17.5)(94.2,17.4)(94.7,17.0)(95.2,16.6)(95.6,16.1)(95.95,15.6)(96.3,15.0)(96.6,14.6)(96.9,15.3)(97.3,16.1)(97.7,16.9)(98.2,17.4)(98.7,17.0)(99.2,16.6)(99.6,15.9)(99.96,15.2)(100.5,14.8)(101.0,14.6)(101.5,15.0)(102.1,15.2)(102.6,14.8)(103.1,14.9)(103.6,14.6)(104.2,14.6)(104.7,14.8)(105.2,14.6)(105.8,14.7)(106.3,14.5)(106.8,14.6)(107.3,14.4)(107.8,14.9)(108.4,15.7)(108.9,16.4)(109.4,16.9)(109.9,17.1)(110.4,17.2)(110.8,17.6)(111.2,18.0)
};
\addlegendentry{Temperature}
\addplot[vline, line width=1.5pt, forget plot] coordinates {(23,-40)(23,25.2)};
\draw[vline, line width=0.9pt, -{Stealth[length=7pt,width=5pt]}] (axis cs:29.6,-32.3) -- (axis cs:23.3,-32.3);
\node[anchor=west, inner sep=0pt, font=\carlito\fontsize{17.6}{20}\selectfont, text=black] at (axis cs:32.3,-32.3) {28Apr2020};
\end{axis}
% ---------------- TEXT ----------------
\node[anchor=base, font=\fontsize{18.6}{21}\selectfont, text=black!90] at (339.2pt,468.3pt) {Total Emission Rate, CH\raisebox{-0.22em}{\fontsize{13}{13}\selectfont 4}, Pond Summer 2019};
\node[anchor=base, font=\fontsize{18.6}{21}\selectfont, text=black!90] at (978.9pt,468.3pt) {Total Emission Rate, CH\raisebox{-0.22em}{\fontsize{13}{13}\selectfont 4}, Pond Spring 2020};
\node[rotate=90, font=\fontsize{18}{20}\selectfont, text=black!90] at (19.5pt,250pt) {[kg/hr]};
\node[rotate=90, font=\fontsize{18}{20}\selectfont, text=black!90] at (660.5pt,250pt) {[kg/hr]};
\node[rotate=90, font=\fontsize{18}{20}\selectfont, text=black!90] at (1273pt,250pt) {Avg T [degC]};
\node[anchor=base, font=\fontsize{16.5}{18}\selectfont, text=black!90] at (339.2pt,2pt) {UTC};
\node[anchor=base, font=\fontsize{16.5}{18}\selectfont, text=black!90] at (978.9pt,2pt) {UTC};
\end{tikzpicture}
\end{document}
